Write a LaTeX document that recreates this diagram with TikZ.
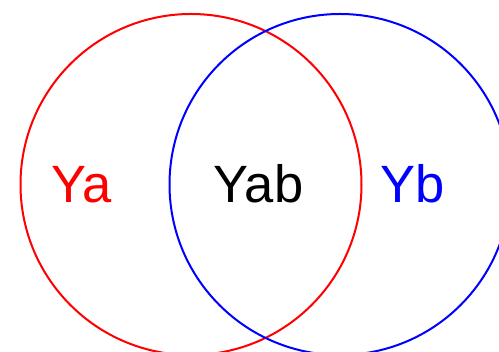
\documentclass[tikz,border=0pt]{standalone}
\usepackage{fontspec}
\setmainfont{Liberation Sans}
\begin{document}
\begin{tikzpicture}[x=1pt,y=1pt,
  ring/.style={line width=2pt},
  lbl/.style={font=\fontsize{52.5}{56}\selectfont, anchor=base, inner sep=0pt}]
\useasboundingbox (0,0) rectangle (499,352);
\coordinate (ca) at (191,167.5);
\coordinate (cb) at (340,167.5);
\draw[ring, red] (ca) circle[radius=170.5];
\draw[ring, blue] (cb) circle[radius=170.5];
\node[lbl, text=red] (ya) at (81.5,149.5) {Ya};
\node[lbl] (yab) at (258.5,149.5) {Yab};
\node[lbl, text=blue] (yb) at (412.5,149.5) {Yb};
\end{tikzpicture}
\end{document}
